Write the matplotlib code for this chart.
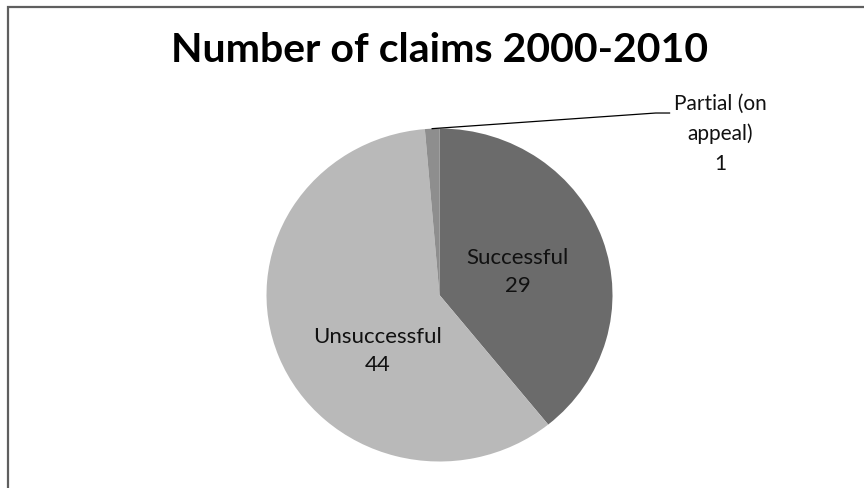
import matplotlib.pyplot as plt
import numpy as np
from matplotlib.patches import Rectangle

# datos del grafico
categorias = ['Successful', 'Unsuccessful', 'Partial (on\nappeal)']
valores = [29, 44, 1]
colores = ['#6b6b6b', '#b9b9b9', '#8e8e8e']
titulo = 'Number of claims 2000-2010'

W, H = 864, 488
fig = plt.figure(figsize=(W / 100, H / 100), dpi=100)
fig.patch.set_facecolor('white')

# marco gris (se sale por la derecha y abajo, como en la captura)
fig.patches.append(Rectangle((7.5 / W, -0.1), 1.2, 1.1 - 7.5 / H, transform=fig.transFigure,
                             fill=False, edgecolor='#5f5f5f', linewidth=1.6))

# ejes en pixeles: centro (439.5, 295) radio x 173, radio y 166.5
cx, cy, rx, ry = 439.5, 295, 173, 166.5
ax = fig.add_axes([(cx - rx) / W, (H - cy - ry) / H, 2 * rx / W, 2 * ry / H])

wedges, _ = ax.pie(valores, colors=colores, startangle=90, counterclock=False,
                   radius=1, wedgeprops=dict(linewidth=0))
ax.set_aspect('auto')
ax.set_xlim(-1, 1)
ax.set_ylim(-1, 1)

fuente = 'Lato'
ax.text(0.452, 0.138, categorias[0] + '\n' + str(valores[0]), ha='center', va='center',
        fontsize=16, family=fuente, color='#111111', linespacing=1.5)
ax.text(-0.357, -0.339, categorias[1] + '\n' + str(valores[1]), ha='center', va='center',
        fontsize=16, family=fuente, color='#111111', linespacing=1.5)

# etiqueta externa con linea guia
t = ax.text(1.621, 0.967, categorias[2] + '\n' + str(valores[2]), ha='center', va='center',
            fontsize=15, family=fuente, color='#111111', linespacing=1.6)
fig.canvas.draw()
bb = t.get_window_extent().transformed(ax.transData.inverted())
xfin = bb.x0 - 4 / rx
w = wedges[2]
ang = np.deg2rad((w.theta1 + w.theta2) / 2)
x0, y0 = np.cos(ang), np.sin(ang)
ax.plot([x0, xfin - 0.08, xfin], [y0, 1.093, 1.093], color='black', linewidth=0.9, clip_on=False)

fig.text(cx / W, 1 - 50 / H, titulo, ha='center', va='center', fontsize=29.5,
         fontweight='bold', family=fuente, color='black')

fig.savefig('out.png', dpi=100)
